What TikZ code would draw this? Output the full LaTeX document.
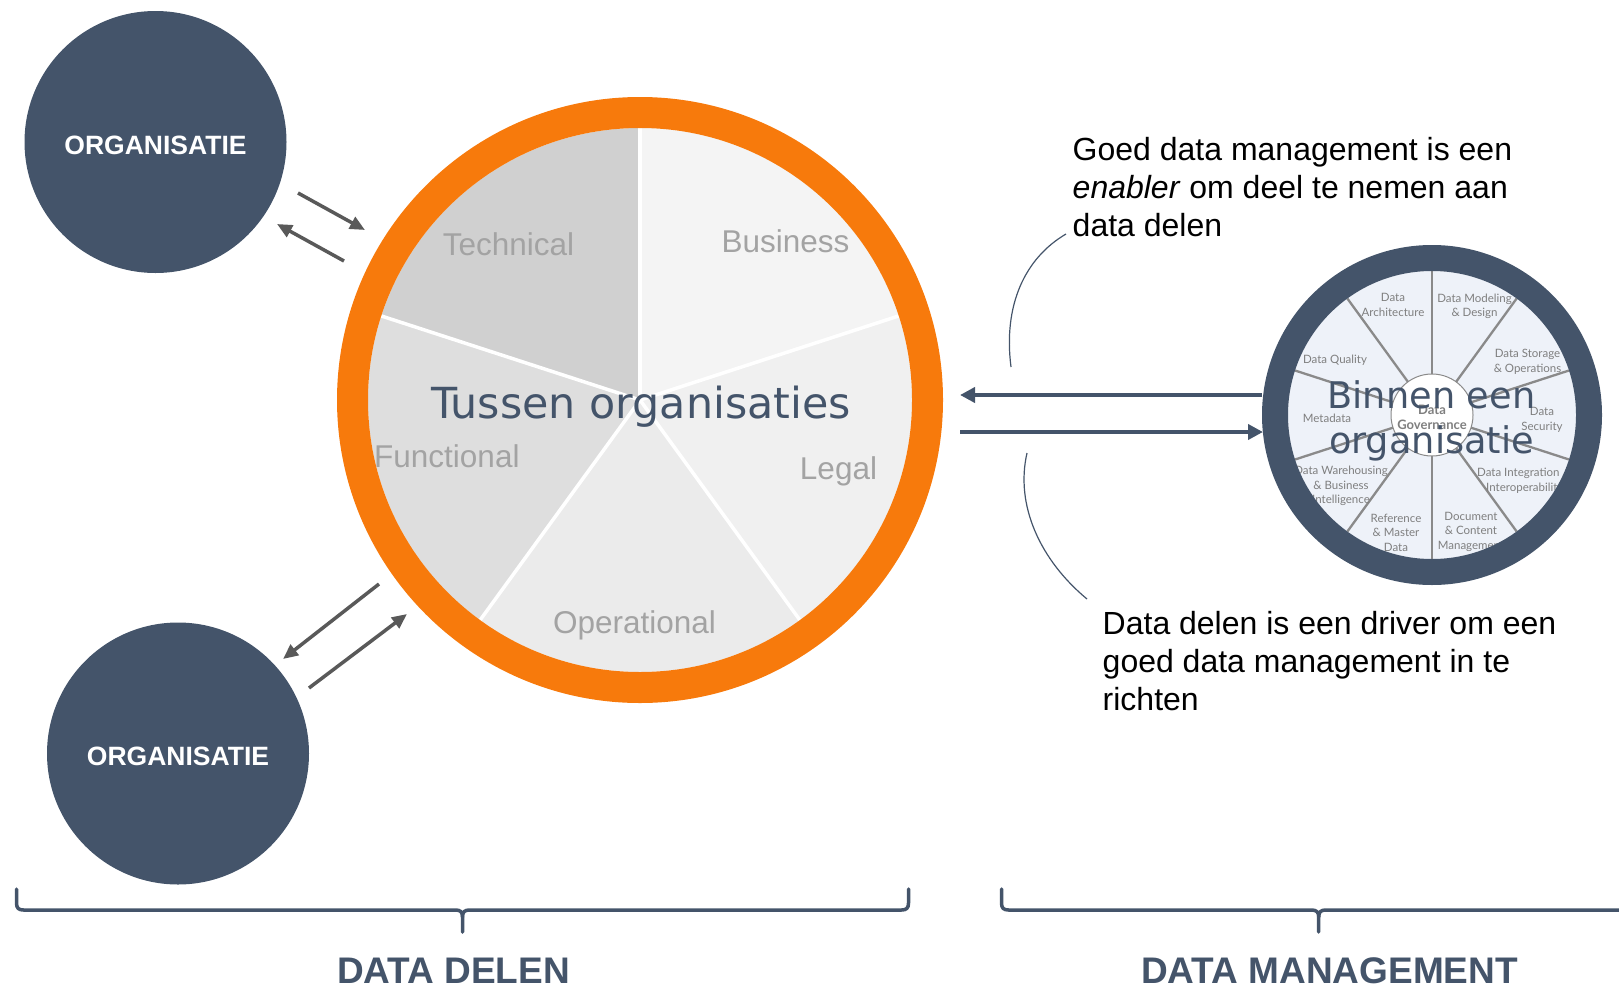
\documentclass[tikz,border=0pt]{standalone}
\usepackage{fontspec}
\setmainfont{Liberation Sans}
\newfontfamily\dvs{DejaVu Sans}
\newfontfamily\lato{Lato}
\usetikzlibrary{arrows.meta}
\definecolor{slate}{HTML}{44546A}
\definecolor{orng}{HTML}{F77A0C}
\definecolor{arrgray}{HTML}{595959}
\definecolor{techc}{HTML}{D0D0D0}
\definecolor{funcc}{HTML}{DEDEDE}
\definecolor{operc}{HTML}{EBEBEB}
\definecolor{legalc}{HTML}{F0F0F0}
\definecolor{busc}{HTML}{F4F4F4}
\definecolor{pietext}{HTML}{A3A3A3}
\definecolor{wheelbg}{HTML}{EEF2F9}
\definecolor{spokec}{HTML}{8A8A8A}
\definecolor{wheeltext}{HTML}{7F7F7F}
\begin{document}
\begin{tikzpicture}[x=1pt,y=-1pt,
  orgcircle/.style={circle, fill=slate, minimum size=262pt, inner sep=0pt, text=white, font=\fontsize{26.5}{30}\selectfont\bfseries},
  grayarrow/.style={draw=arrgray, line width=3.5pt, -{Triangle[length=15pt,width=13pt]}},
  slatearrow/.style={draw=slate, line width=4pt, -{Triangle[length=15pt,width=15pt]}},
  callout/.style={draw=slate, line width=1.2pt},
  calltext/.style={anchor=base west, inner sep=0pt, font=\fontsize{32}{38}\selectfont},
  pielabel/.style={inner sep=0pt, text=pietext, font=\fontsize{31.5}{36}\selectfont},
  wheellabel/.style={inner sep=0pt, align=center, text=wheeltext, font=\lato\fontsize{11.5}{14.5}\selectfont},
  bracepath/.style={draw=slate, line width=3.5pt, line cap=round, line join=round},
  sectionlabel/.style={anchor=base, inner sep=0pt, text=slate, font=\fontsize{37}{40}\selectfont\bfseries},
  bigtext/.style={anchor=base, inner sep=0pt, text=slate}
]
\useasboundingbox (0,0) rectangle (1619,985);

% organisation circles
\node[orgcircle] (orgtop) at (155.5,142) {\raisebox{-2.5pt}[19pt][0pt]{ORGANISATIE}};
\node[orgcircle] (orgbot) at (178,753.5) {\raisebox{-2pt}[19pt][0pt]{ORGANISATIE}};

% pie
\begin{scope}[shift={(640,400)}, yscale=-1]
  \fill[techc] (0,0) -- (90:272) arc[start angle=90, end angle=162, radius=272] -- cycle;
  \fill[funcc] (0,0) -- (162:272) arc[start angle=162, end angle=234, radius=272] -- cycle;
  \fill[operc] (0,0) -- (234:272) arc[start angle=234, end angle=306, radius=272] -- cycle;
  \fill[legalc] (0,0) -- (306:272) arc[start angle=306, end angle=378, radius=272] -- cycle;
  \fill[busc] (0,0) -- (18:272) arc[start angle=18, end angle=90, radius=272] -- cycle;
  \foreach \a in {90,18,-54,-126,162}
    \draw[white, line width=3.5pt] (0,0) -- (\a:272);
\end{scope}
\node[pielabel, anchor=base] (ltech) at (508.5,255) {Technical};
\node[pielabel, anchor=base] (lbus) at (785.5,252) {Business};
\node[pielabel, anchor=base west] (lfunc) at (374,467.5) {Functional};
\node[pielabel, anchor=base] (llegal) at (838.5,479.5) {Legal};
\node[pielabel, anchor=base] (loper) at (634.5,633.7) {Operational};
\draw[orng, line width=31pt] (640,400) circle[radius=287.5];
\node[circle, minimum size=606pt, inner sep=0pt] (pie) at (640,400) {};
\node[bigtext, font=\dvs\fontsize{42.8}{48}\selectfont] (tussen) at (641,418.3) {Tussen organisaties};

% wheel
\begin{scope}[shift={(1432,415)}, yscale=-1]
  \fill[wheelbg] (0,0) circle[radius=144];
  \foreach \a in {90,54,18,-18,-54,-90,-126,-162,162,126}
    \draw[spokec, line width=2.3pt] (0,0) -- (\a:144);
\end{scope}
\node[wheellabel] (w1) at (1393,305) {Data\\Architecture};
\node[wheellabel] (w2) at (1474.5,306.5) {Data Modeling\\\& Design};
\node[wheellabel] (w3) at (1527.5,362) {Data Storage\\\& Operations};
\node[wheellabel] (w4) at (1542,420) {Data\\Security};
\node[wheellabel, anchor=base west] (w5a) at (1477,476) {Data Integration};
\node[wheellabel, anchor=base west] (w5b) at (1486,491) {Interoperability};
\node[wheellabel] (w6) at (1471,531.5) {Document\\\& Content\\Management};
\node[wheellabel] (w7) at (1396,532.5) {Reference\\\& Master\\Data};
\node[wheellabel] (w8) at (1341,486) {Data Warehousing\\\& Business\\Intelligence};
\node[wheellabel] (w9) at (1327,418) {Metadata};
\node[wheellabel] (w10) at (1335,360) {Data Quality};
\draw[fill=white, draw=spokec, line width=1pt] (1432,415) circle[radius=41];
\node[wheellabel, font=\lato\bfseries\fontsize{13}{15.5}\selectfont] (gov) at (1432,417.5) {Data\\Governance};
\draw[slate, line width=26pt] (1432,415) circle[radius=157];
\node[circle, minimum size=340pt, inner sep=0pt] (wheel) at (1432,415) {};
\node[bigtext, font=\dvs\fontsize{36.7}{44}\selectfont] (binnen1) at (1431.5,408.5) {Binnen een};
\node[bigtext, font=\dvs\fontsize{36.7}{44}\selectfont] (binnen2) at (1431.5,453.5) {organisatie};

% arrows organisations <-> pie
\coordinate (a1s) at (298,193); \coordinate (a1e) at (365,230);
\coordinate (a2s) at (344,261); \coordinate (a2e) at (277,224);
\coordinate (b1s) at (379,584); \coordinate (b1e) at (283,659);
\coordinate (b2s) at (309,688); \coordinate (b2e) at (407,614);
\draw[grayarrow] (a1s) -- (a1e);
\draw[grayarrow] (a2s) -- (a2e);
\draw[grayarrow] (b1s) -- (b1e);
\draw[grayarrow] (b2s) -- (b2e);

% arrows wheel <-> pie
\coordinate (h1s) at (1262,395); \coordinate (h1e) at (960,395);
\coordinate (h2s) at (960,432); \coordinate (h2e) at (1263,432);
\draw[slatearrow] (h1s) -- (h1e);
\draw[slatearrow] (h2s) -- (h2e);

% callout curves
\coordinate (c1s) at (1066,234); \coordinate (c1e) at (1011,367);
\coordinate (c2s) at (1027,453); \coordinate (c2e) at (1087,599);
\draw[callout] (c1s) .. controls (1025,258) and (1003,305) .. (c1e);
\draw[callout] (c2s) .. controls (1015,505) and (1040,560) .. (c2e);

% callout texts
\node[calltext] (t1) at (1072.5,160) {Goed data management is een};
\node[calltext] (t2) at (1072.5,198) {\textit{enabler} om deel te nemen aan};
\node[calltext] (t3) at (1072.5,236) {data delen};
\node[calltext] (t4) at (1102.5,634) {Data delen is een driver om een};
\node[calltext] (t5) at (1102.5,672) {goed data management in te};
\node[calltext] (t6) at (1102.5,710) {richten};

% braces
\draw[bracepath] (16.5,889) -- (16.5,903) .. controls (16.5,908) and (18.5,910) .. (23.5,910)
  -- (455.5,910) .. controls (460.5,910) and (462.5,912) .. (462.5,917) -- (462.5,932);
\draw[bracepath] (462.5,917) .. controls (462.5,912) and (464.5,910) .. (469.5,910)
  -- (901.5,910) .. controls (906.5,910) and (908.5,908) .. (908.5,903) -- (908.5,889);
\draw[bracepath] (1001.5,889) -- (1001.5,903) .. controls (1001.5,908) and (1003.5,910) .. (1008.5,910)
  -- (1311.5,910) .. controls (1316.5,910) and (1318.7,912) .. (1318.7,917) -- (1318.7,932);
\draw[bracepath] (1318.7,917) .. controls (1318.7,912) and (1320.7,910) .. (1325.7,910) -- (1630,910);
\node[sectionlabel] (sdelen) at (453.5,983.5) {DATA DELEN};
\node[sectionlabel] (smgmt) at (1329.5,983.5) {DATA MANAGEMENT};
\end{tikzpicture}
\end{document}
